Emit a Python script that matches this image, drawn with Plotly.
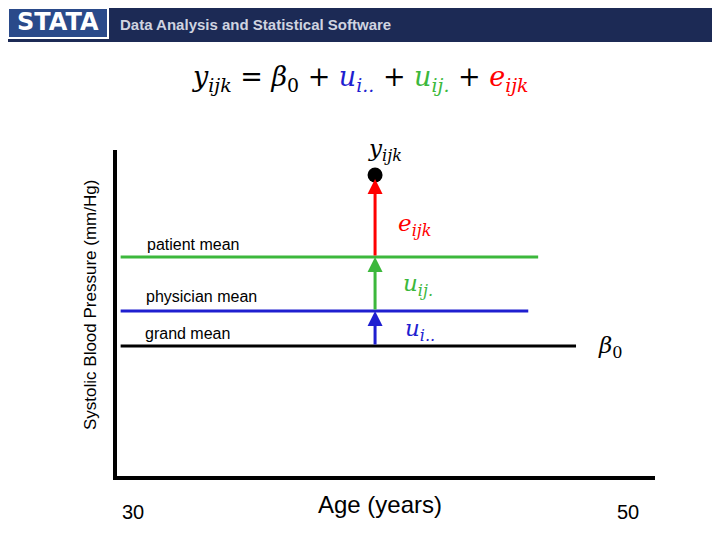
import plotly.graph_objects as go

# data (age in years, SBP in arbitrary chart units)
ages_ticks = [30, 50]
tick_labels = ["30", "50"]
level_names = ["grand mean", "physician mean", "patient mean"]
level_values = [132, 167, 221]
level_colors = ["black", "#1f1fd0", "#3cb83c"]
level_ends = [47.9, 45.97, 46.37]
line_start = 29.5
obs_age = 39.78
obs_value = 303

PX = 24.75
W, H, OFF = 712, 532, 8
def ax(px): return 30 + (px - 133) / PX
def ay(py): return 478 - py
def pxr(px): return (px - OFF) / W
def pyr(py): return 1 - (py - OFF) / H

fig = go.Figure()
fig.add_trace(go.Scatter(x=[ax(115), ax(115), ax(655)], y=[ay(150), ay(478), ay(478)],
                         mode="lines", line=dict(color="black", width=4), hoverinfo="skip"))
for v, c, e in zip(level_values, level_colors, level_ends):
    fig.add_trace(go.Scatter(x=[line_start, e], y=[v, v], mode="lines",
                             line=dict(color=c, width=3), hoverinfo="skip"))
fig.add_trace(go.Scatter(x=[obs_age], y=[obs_value], mode="markers",
                         marker=dict(color="black", size=15), hoverinfo="skip"))
arrow_cols = ["#1f1fd0", "#3cb83c", "red"]
tops = [level_values[1], level_values[2], obs_value - 4]
bots = [level_values[0], level_values[1], level_values[2]]
for c, t, b in zip(arrow_cols, tops, bots):
    fig.add_annotation(x=obs_age, y=t, ax=obs_age, ay=b, xref="x", yref="y", axref="x", ayref="y",
                       showarrow=True, arrowhead=2, arrowsize=1, arrowwidth=3, arrowcolor=c, text="")
lab_y = [ay(333), ay(296), ay(244)]
lab_x = [ax(143), ax(144), ax(145)]
for n, x, y in zip(level_names, lab_x, lab_y):
    fig.add_annotation(x=x, y=y, text=n, showarrow=False, xanchor="left", yanchor="middle",
                       font=dict(size=16, color="black", family="Liberation Sans"))
for a, t in zip(ages_ticks, tick_labels):
    fig.add_annotation(x=a, y=ay(512), text=t, showarrow=False,
                       font=dict(size=20, color="black", family="Liberation Sans"))
fig.add_annotation(x=ax(380), y=ay(504), text="Age (years)", showarrow=False,
                   font=dict(size=24, color="black", family="Liberation Sans"))
fig.add_annotation(x=ax(90), y=ay(305), text="Systolic Blood Pressure (mm/Hg)", textangle=-90,
                   showarrow=False, font=dict(size=17, color="black", family="Liberation Sans"))
mf = dict(family="DejaVu Serif", size=23)
def m(x, y, t, c):
    fig.add_annotation(x=ax(x), y=ay(y), text=t, showarrow=False, font=dict(mf, color=c))
m(385, 150, "<i>y</i><sub><i>ijk</i></sub>", "black")
m(415, 225, "<i>e</i><sub><i>ijk</i></sub>", "red")
m(418, 285, "<i>u</i><sub><i>ij.</i></sub>", "#3cb83c")
m(420, 330, "<i>u</i><sub><i>i..</i></sub>", "#1f1fd0")
m(610, 347, "<i>β</i><sub>0</sub>", "black")
fig.add_annotation(x=ax(360), y=ay(78), showarrow=False,
                   font=dict(family="DejaVu Serif", size=27, color="black"),
    text="<i>y</i><sub><i>ijk</i></sub> = <i>β</i><sub>0</sub> + <span style='color:#1f1fd0'><i>u</i><sub><i>i..</i></sub></span>"
         " + <span style='color:#3cb83c'><i>u</i><sub><i>ij.</i></sub></span> + <span style='color:red'><i>e</i><sub><i>ijk</i></sub></span>")
# header
fig.add_shape(type="rect", xref="paper", yref="paper", x0=0, x1=1, y0=pyr(42), y1=1,
              fillcolor="#1c2a55", line_width=0, layer="below")
fig.add_shape(type="rect", xref="paper", yref="paper", x0=0, x1=pxr(108), y0=pyr(38), y1=1,
              fillcolor="#2a4a8a", line=dict(color="white", width=2))
fig.add_annotation(xref="paper", yref="paper", x=pxr(58), y=pyr(22), text="<b>STATA</b>", showarrow=False,
                   xanchor="center", yanchor="middle",
                   font=dict(color="white", size=24, family="DejaVu Sans"))
fig.add_annotation(xref="paper", yref="paper", x=pxr(118), y=pyr(24), xanchor="left", yanchor="middle",
                   text="<b>Data Analysis and Statistical Software</b>", showarrow=False,
                   font=dict(color="#d0d4e0", size=15, family="Liberation Sans"))

fig.update_layout(width=W, height=H, margin=dict(l=0, r=0, t=0, b=0), showlegend=False,
                  font=dict(color="black"),
                  plot_bgcolor="white", paper_bgcolor="white",
                  xaxis=dict(range=[ax(OFF), ax(720)], visible=False),
                  yaxis=dict(range=[ay(540), ay(OFF)], visible=False))
fig.write_html("out.html")
